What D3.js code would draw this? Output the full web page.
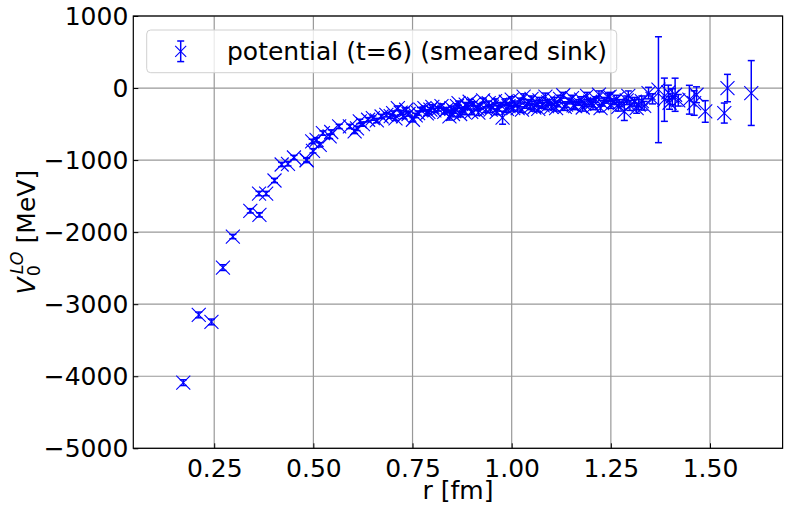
<!DOCTYPE html>
<html>
<head>
<meta charset="utf-8">
<title>potential</title>
<style>
  body { margin: 0; background: #fff; }
  svg text { font-family: 'DejaVu Sans', sans-serif; }
</style>
</head>
<body>
<div id="chart"></div>
<script src="https://cdn.jsdelivr.net/npm/d3@7"></script>
<script>
// r [fm], V [MeV], error [MeV]
var rValues = [
  0.172, 0.211, 0.243, 0.272, 0.297, 0.341, 0.364, 0.363, 0.381, 0.402,
  0.420, 0.436, 0.451, 0.483, 0.483, 0.499, 0.497, 0.508, 0.516, 0.524,
  0.541, 0.545, 0.565, 0.592, 0.604, 0.610, 0.617, 0.625, 0.638, 0.650,
  0.660, 0.672, 0.684, 0.695, 0.701, 0.707, 0.713, 0.720, 0.726, 0.734,
  0.740, 0.751, 0.758, 0.764, 0.770, 0.780, 0.786, 0.790, 0.800, 0.805,
  0.815, 0.823, 0.830, 0.836, 0.843, 0.848, 0.855, 0.862, 0.870, 0.877,
  0.884, 0.890, 0.898, 0.905, 0.912, 0.920, 0.928, 0.935, 0.942, 0.950,
  0.958, 0.965, 0.971, 0.977, 0.985, 0.992, 1.000, 1.008, 1.015, 1.022,
  1.030, 1.037, 1.043, 1.050, 1.057, 1.064, 1.070, 1.078, 1.085, 1.092,
  1.100, 1.108, 1.115, 1.122, 1.130, 1.137, 1.145, 1.152, 1.160, 1.168,
  1.175, 1.183, 1.190, 1.198, 1.205, 1.212, 1.220, 1.228, 1.235, 1.243,
  1.250, 1.258, 1.265, 1.272, 1.284, 1.290, 1.298, 1.310, 1.320, 1.334,
  1.345, 1.355, 1.370, 1.385, 1.398, 1.405, 1.412, 1.448, 1.460, 1.466,
  1.488, 1.536, 1.544, 1.604,
  0.795, 0.852, 0.866, 0.880, 0.894, 0.916, 0.947, 0.962, 0.988, 1.004,
  1.026, 1.047, 1.067, 1.089, 1.112, 1.134, 1.156, 1.179, 1.201, 1.224,
  1.247, 1.269, 1.294, 1.315, 1.328, 1.395, 1.420
];
var vValues = [
  -4089, -3149, -3246, -2492, -2061, -1704, -1760, -1464, -1464, -1283,
  -1061, -1051, -964, -996, -1005, -871, -741, -718, -788, -625,
  -672, -610, -533, -533, -602, -560, -463, -500, -440, -417,
  -450, -395, -371, -390, -347, -420, -278, -340, -394, -301,
  -360, -440, -380, -347, -300, -280, -350, -330, -260, -310,
  -290, -250, -330, -300, -394, -280, -320, -250, -360, -300,
  -230, -270, -330, -220, -280, -250, -170, -300, -210, -260,
  -180, -280, -230, -412, -190, -250, -160, -220, -280, -180,
  -120, -240, -200, -150, -270, -210, -170, -240, -120, -200,
  -260, -170, -220, -150, -100, -230, -180, -140, -250, -200,
  -160, -220, -110, -190, -250, -160, -90, -210, -170, -130,
  -230, -190, -150, -210, -325, -170, -240, -190, -230, -246,
  -70, -150, -23, -162, -204, -120, -93, -162, -208, -93,
  -325, -347, 0, -69,
  -300, -360, -210, -330, -190, -340, -300, -330, -290, -280,
  -300, -260, -290, -250, -280, -260, -240, -270, -210, -280,
  -120, -260, -110, -280, -180, -60, -170
];
var errValues = [
  40, 40, 40, 40, 30, 30, 30, 30, 30, 30,
  30, 30, 30, 30, 30, 30, 30, 30, 30, 30,
  30, 30, 30, 30, 30, 30, 30, 30, 30, 30,
  30, 30, 30, 30, 30, 30, 30, 30, 30, 30,
  30, 30, 30, 30, 30, 30, 30, 30, 30, 30,
  30, 30, 30, 30, 50, 30, 30, 30, 40, 30,
  30, 30, 40, 30, 30, 30, 30, 40, 30, 30,
  30, 40, 30, 90, 40, 40, 40, 40, 40, 40,
  40, 40, 40, 40, 50, 40, 40, 40, 50, 40,
  40, 40, 40, 50, 40, 40, 40, 40, 50, 40,
  40, 40, 50, 40, 50, 40, 50, 40, 40, 50,
  50, 40, 50, 50, 125, 60, 70, 60, 70, 60,
  80, 70, 735, 300, 90, 110, 230, 200, 170, 110,
  150, 139, 190, 450,
  30, 40, 30, 40, 30, 40, 40, 40, 50, 40,
  40, 40, 40, 50, 40, 50, 50, 50, 50, 50,
  60, 60, 70, 70, 70, 100, 80
];
var xTicks = [0.25, 0.50, 0.75, 1.00, 1.25, 1.50];
var yTicks = [1000, 0, -1000, -2000, -3000, -4000, -5000];
var legendLabel = 'potential (t=6) (smeared sink)';

var width = 788, height = 511;
var margin = { left: 133.3, right: 5.4, top: 16, bottom: 62.7 };
var fontSize = 25;
var blue = '#0000ff';

var svg = d3.select('#chart').append('svg')
  .attr('width', width)
  .attr('height', height);

var x = d3.scaleLinear()
  .domain([0.046, 1.683])
  .range([margin.left, width - margin.right]);
var y = d3.scaleLinear()
  .domain([-5000, 1000])
  .range([height - margin.bottom, margin.top]);

// grid
svg.append('g').selectAll('line.gx')
  .data(xTicks).enter().append('line')
  .attr('x1', function(d) { return x(d); })
  .attr('x2', function(d) { return x(d); })
  .attr('y1', y.range()[0]).attr('y2', y.range()[1])
  .attr('stroke', '#999').attr('stroke-width', 1.2);
svg.append('g').selectAll('line.gy')
  .data(yTicks).enter().append('line')
  .attr('y1', function(d) { return y(d); })
  .attr('y2', function(d) { return y(d); })
  .attr('x1', x.range()[0]).attr('x2', x.range()[1])
  .attr('stroke', '#999').attr('stroke-width', 1.2);

// axes, ticks pointing inward
var xAxis = svg.append('g')
  .attr('transform', 'translate(0,' + y.range()[0] + ')')
  .call(d3.axisBottom(x).tickValues(xTicks).tickFormat(d3.format('.2f'))
    .tickSizeInner(-5).tickSizeOuter(0).tickPadding(11));
var yAxis = svg.append('g')
  .attr('transform', 'translate(' + x.range()[0] + ',0)')
  .call(d3.axisLeft(y).tickValues(yTicks).tickFormat(d3.format('d'))
    .tickSizeInner(-5).tickSizeOuter(0).tickPadding(5));
[xAxis, yAxis].forEach(function(a) {
  a.select('.domain').remove();
  a.selectAll('text').attr('font-size', fontSize)
    .attr('font-family', 'DejaVu Sans').attr('fill', '#000');
  a.selectAll('line').attr('stroke', '#000').attr('stroke-width', 1);
});

// frame
svg.append('rect')
  .attr('x', x.range()[0]).attr('y', y.range()[1])
  .attr('width', x.range()[1] - x.range()[0])
  .attr('height', y.range()[0] - y.range()[1])
  .attr('fill', 'none').attr('stroke', '#000').attr('stroke-width', 1.2);

// data
var points = rValues.map(function(r, i) {
  return { r: r, v: vValues[i], e: errValues[i] };
});
var cap = 3.5, mk = 7;
var g = svg.append('g');
var pt = g.selectAll('g.pt').data(points).enter().append('g')
  .attr('transform', function(d) {
    return 'translate(' + x(d.r) + ',' + y(d.v) + ')';
  })
  .attr('stroke', blue).attr('fill', 'none');
pt.append('line')
  .attr('y1', function(d) { return y(d.v + d.e) - y(d.v); })
  .attr('y2', function(d) { return y(d.v - d.e) - y(d.v); })
  .attr('stroke-width', 1.5);
pt.append('line')
  .attr('x1', -cap).attr('x2', cap)
  .attr('y1', function(d) { return y(d.v + d.e) - y(d.v); })
  .attr('y2', function(d) { return y(d.v + d.e) - y(d.v); })
  .attr('stroke-width', 1.5);
pt.append('line')
  .attr('x1', -cap).attr('x2', cap)
  .attr('y1', function(d) { return y(d.v - d.e) - y(d.v); })
  .attr('y2', function(d) { return y(d.v - d.e) - y(d.v); })
  .attr('stroke-width', 1.5);
pt.append('path')
  .attr('d', 'M' + -mk + ',' + -mk + 'L' + mk + ',' + mk +
             'M' + -mk + ',' + mk + 'L' + mk + ',' + -mk)
  .attr('stroke-width', 1.1);

// legend
var lg = svg.append('g');
lg.append('rect')
  .attr('x', 146.7).attr('y', 30)
  .attr('width', 470).attr('height', 42.7)
  .attr('rx', 4).attr('ry', 4)
  .attr('fill', 'rgba(255,255,255,0.8)')
  .attr('stroke', '#d0d0d0').attr('stroke-width', 1);
var lm = lg.append('g').attr('transform', 'translate(180.7,51.3)')
  .attr('stroke', blue).attr('fill', 'none').attr('stroke-width', 1.5);
lm.append('line').attr('y1', -10.3).attr('y2', 10.3);
lm.append('line').attr('x1', -cap).attr('x2', cap).attr('y1', -10.3).attr('y2', -10.3);
lm.append('line').attr('x1', -cap).attr('x2', cap).attr('y1', 10.3).attr('y2', 10.3);
lm.append('path').attr('d', 'M-5.5,-5.5L5.5,5.5M-5.5,5.5L5.5,-5.5').attr('stroke-width', 1.1);
lg.append('text')
  .attr('x', 227).attr('y', 60)
  .attr('font-size', fontSize)
  .text(legendLabel);

// x label
svg.append('text')
  .attr('x', (x.range()[0] + x.range()[1]) / 2)
  .attr('y', 499)
  .attr('text-anchor', 'middle')
  .attr('font-size', fontSize)
  .text('r [fm]');

// y label: V_0^{LO} [MeV]
var yl = svg.append('g');
var tV = yl.append('text').attr('font-size', fontSize).attr('font-style', 'italic').text('V');
var tSub = yl.append('text').attr('font-size', 17.5).text('0');
var tSup = yl.append('text').attr('font-size', 17.5).attr('font-style', 'italic').text('LO');
var tRest = yl.append('text').attr('font-size', fontSize).text('\u00a0[MeV]');
var wV = tV.node().getComputedTextLength();
var wSub = tSub.node().getComputedTextLength();
var wSup = tSup.node().getComputedTextLength();
var wRest = tRest.node().getComputedTextLength();
var wScript = Math.max(wSub + 1, wSup + 3);
var total = wV + wScript + wRest;
var x0 = -total / 2;
tV.attr('x', x0).attr('y', 0);
tSub.attr('x', x0 + wV + 1).attr('y', 5);
tSup.attr('x', x0 + wV + 3).attr('y', -12);
tRest.attr('x', x0 + wV + wScript).attr('y', 0);
yl.attr('transform', 'translate(35,' + (y.range()[0] + y.range()[1]) / 2 + ') rotate(-90)');
</script>
</body>
</html>
